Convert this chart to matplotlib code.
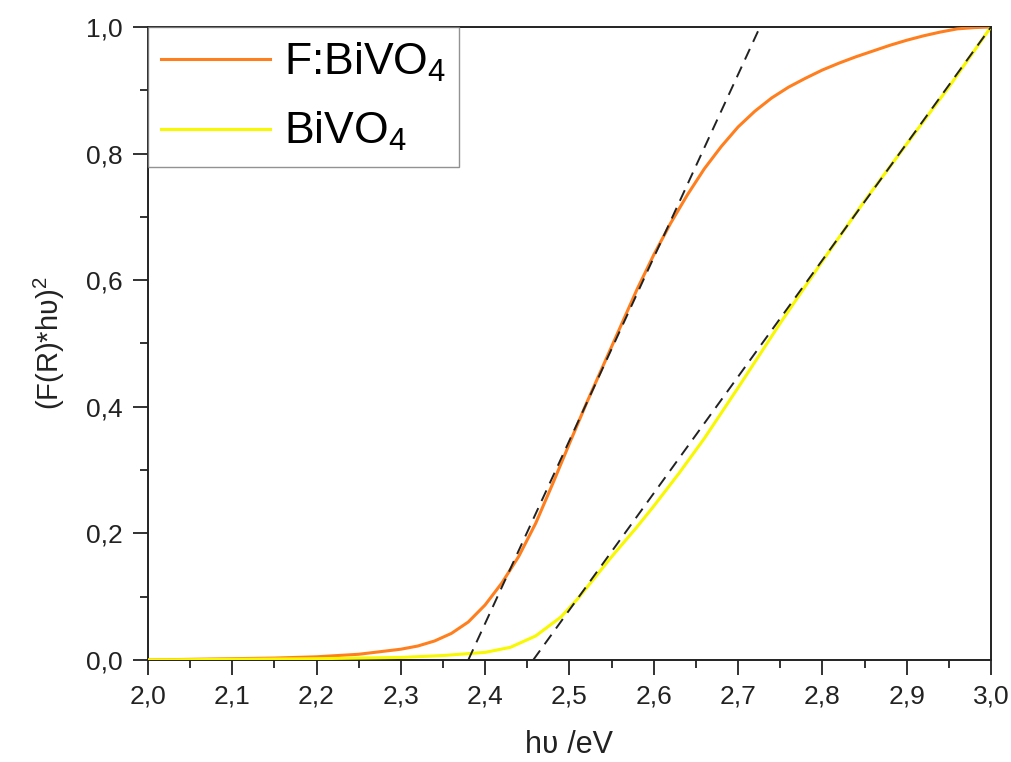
import numpy as np
import matplotlib
matplotlib.use('Agg')
import matplotlib.pyplot as plt
from matplotlib.ticker import MultipleLocator, FuncFormatter

plt.rcParams['font.family'] = ['Liberation Sans', 'DejaVu Sans']
plt.rcParams['mathtext.fontset'] = 'custom'
plt.rcParams['mathtext.rm'] = 'Liberation Sans'

# Datos
x_f = [2.0, 2.05, 2.1, 2.15, 2.2, 2.25, 2.3, 2.32, 2.34, 2.36, 2.38, 2.4, 2.42,
       2.44, 2.46, 2.48, 2.5, 2.52, 2.54, 2.56, 2.58, 2.6, 2.62, 2.64, 2.66,
       2.68, 2.7, 2.72, 2.74, 2.76, 2.78, 2.8, 2.82, 2.84, 2.86, 2.88, 2.9,
       2.92, 2.94, 2.96, 2.98, 3.0]
y_f = [0.0, 0.001, 0.002, 0.003, 0.005, 0.009, 0.017, 0.022, 0.03, 0.042, 0.06,
       0.087, 0.122, 0.164, 0.216, 0.278, 0.342, 0.405, 0.465, 0.525, 0.585,
       0.64, 0.69, 0.735, 0.776, 0.811, 0.842, 0.867, 0.888, 0.905, 0.919,
       0.932, 0.943, 0.953, 0.962, 0.971, 0.979, 0.986, 0.992, 0.997, 0.999, 1.0]

x_b = [2.0, 2.1, 2.2, 2.3, 2.35, 2.4, 2.43, 2.46, 2.49, 2.51, 2.55, 2.58, 2.6,
       2.63, 2.66, 2.7, 2.75, 2.8, 2.85, 2.9, 2.95, 3.0]
y_b = [0.0, 0.001, 0.002, 0.004, 0.007, 0.012, 0.02, 0.038, 0.068, 0.097, 0.163,
       0.21, 0.243, 0.295, 0.35, 0.43, 0.532, 0.63, 0.725, 0.815, 0.905, 1.0]

# Rectas de ajuste (Tauc)
fit_f_x = [2.38, 2.726]
fit_f_y = [0.0, 1.0]
fit_b_x = [2.457, 3.0]
fit_b_y = [0.0, 1.0]

fig = plt.figure(figsize=(10.12, 7.62), dpi=100)
ax = fig.add_axes([0.1462, 0.1339, 0.833, 0.8307])

ax.plot(x_f, y_f, color='#ff7f1e', lw=2.2, label='F:BiVO$_4$', zorder=3)
ax.plot(x_b, y_b, color='#f8f800', lw=2.2, label='BiVO$_4$', zorder=3)
ax.plot(fit_f_x, fit_f_y, color='#222222', lw=1.4, ls=(0, (6, 4)), zorder=4)
ax.plot(fit_b_x, fit_b_y, color='#222222', lw=1.4, ls=(0, (6, 4)), zorder=4)

ax.set_xlim(2.0, 3.0)
ax.set_ylim(0.0, 1.0)
ax.xaxis.set_major_locator(MultipleLocator(0.1))
ax.xaxis.set_minor_locator(MultipleLocator(0.05))
ax.yaxis.set_major_locator(MultipleLocator(0.2))
ax.yaxis.set_minor_locator(MultipleLocator(0.1))
coma = FuncFormatter(lambda v, p: f'{v:.1f}'.replace('.', ','))
ax.xaxis.set_major_formatter(coma)
ax.yaxis.set_major_formatter(coma)
ax.tick_params(which='both', direction='out', width=1.3, labelsize=19, colors='#222222')
ax.tick_params(which='major', length=11, pad=7)
ax.tick_params(which='minor', length=6)
for s in ax.spines.values():
    s.set_linewidth(1.4)
    s.set_color('#222222')

ax.set_xlabel('h\u028b /eV', fontsize=22, labelpad=15, color='#222222')
ax.set_ylabel('(F(R)*h\u028b)$^2$', fontsize=21, labelpad=14, color='#222222')

leg = ax.legend(loc='upper left', fontsize=32, frameon=True, fancybox=False,
                borderaxespad=0, handlelength=2.45, handletextpad=0.3,
                borderpad=0.3, labelspacing=0.6, handleheight=0.7)
leg.get_frame().set_edgecolor('#777777')
leg.get_frame().set_linewidth(1.0)

fig.savefig('out.png', dpi=100)
